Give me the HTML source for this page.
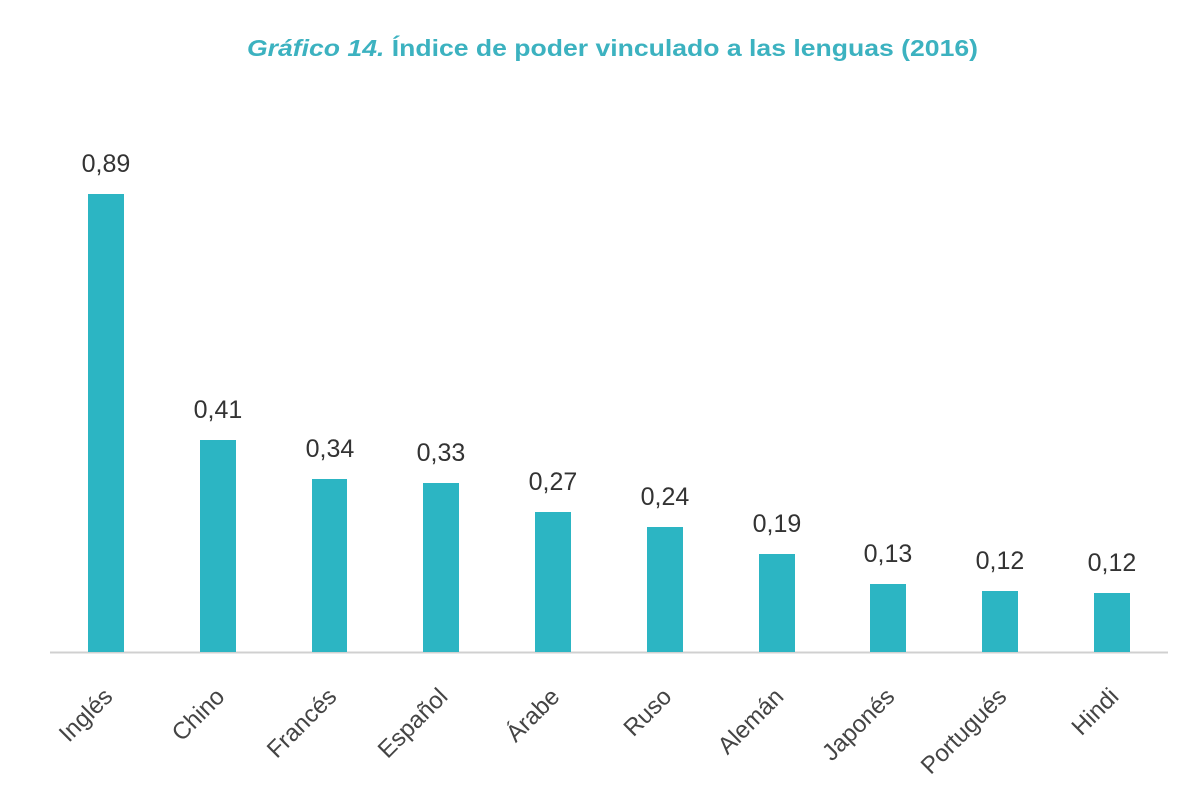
<!DOCTYPE html>
<html><head><meta charset="utf-8"><style>body{margin:0;background:#fff}svg{display:block}</style></head>
<body>
<svg width="1200" height="800" xmlns="http://www.w3.org/2000/svg" font-family="'Liberation Sans', sans-serif">
<text x="247" y="56" font-size="23" font-weight="bold" fill="#3cb2c0" textLength="731" lengthAdjust="spacingAndGlyphs"><tspan font-style="italic">Gráfico 14.</tspan> Índice de poder vinculado a las lenguas (2016)</text>
<line x1="50" y1="652.5" x2="1168" y2="652.5" stroke="#d0d0d0" stroke-width="2"/>
<g fill="#2cb5c3">
<rect x="88" y="194" width="36" height="458"/>
<rect x="200" y="440" width="36" height="212"/>
<rect x="312" y="479" width="35" height="173"/>
<rect x="423" y="483" width="36" height="169"/>
<rect x="535" y="512" width="36" height="140"/>
<rect x="647" y="527" width="36" height="125"/>
<rect x="759" y="554" width="36" height="98"/>
<rect x="870" y="584" width="36" height="68"/>
<rect x="982" y="591" width="36" height="61"/>
<rect x="1094" y="593" width="36" height="59"/>
</g>
<g font-size="25" fill="#333" text-anchor="middle">
<text x="106" y="172">0,89</text>
<text x="218" y="418">0,41</text>
<text x="330" y="457">0,34</text>
<text x="441" y="461">0,33</text>
<text x="553" y="490">0,27</text>
<text x="665" y="505">0,24</text>
<text x="777" y="532">0,19</text>
<text x="888" y="562">0,13</text>
<text x="1000" y="569">0,12</text>
<text x="1112" y="571">0,12</text>
</g>
<g font-size="24" fill="#444" text-anchor="end">
<text transform="translate(114,698) rotate(-45)">Inglés</text>
<text transform="translate(226,698) rotate(-45)">Chino</text>
<text transform="translate(338,698) rotate(-45)">Francés</text>
<text transform="translate(449,698) rotate(-45)">Español</text>
<text transform="translate(561,698) rotate(-45)">Árabe</text>
<text transform="translate(673,698) rotate(-45)">Ruso</text>
<text transform="translate(785,698) rotate(-45)">Alemán</text>
<text transform="translate(896,698) rotate(-45)">Japonés</text>
<text transform="translate(1008,698) rotate(-45)">Portugués</text>
<text transform="translate(1120,698) rotate(-45)">Hindi</text>
</g>
</svg>
</body></html>
